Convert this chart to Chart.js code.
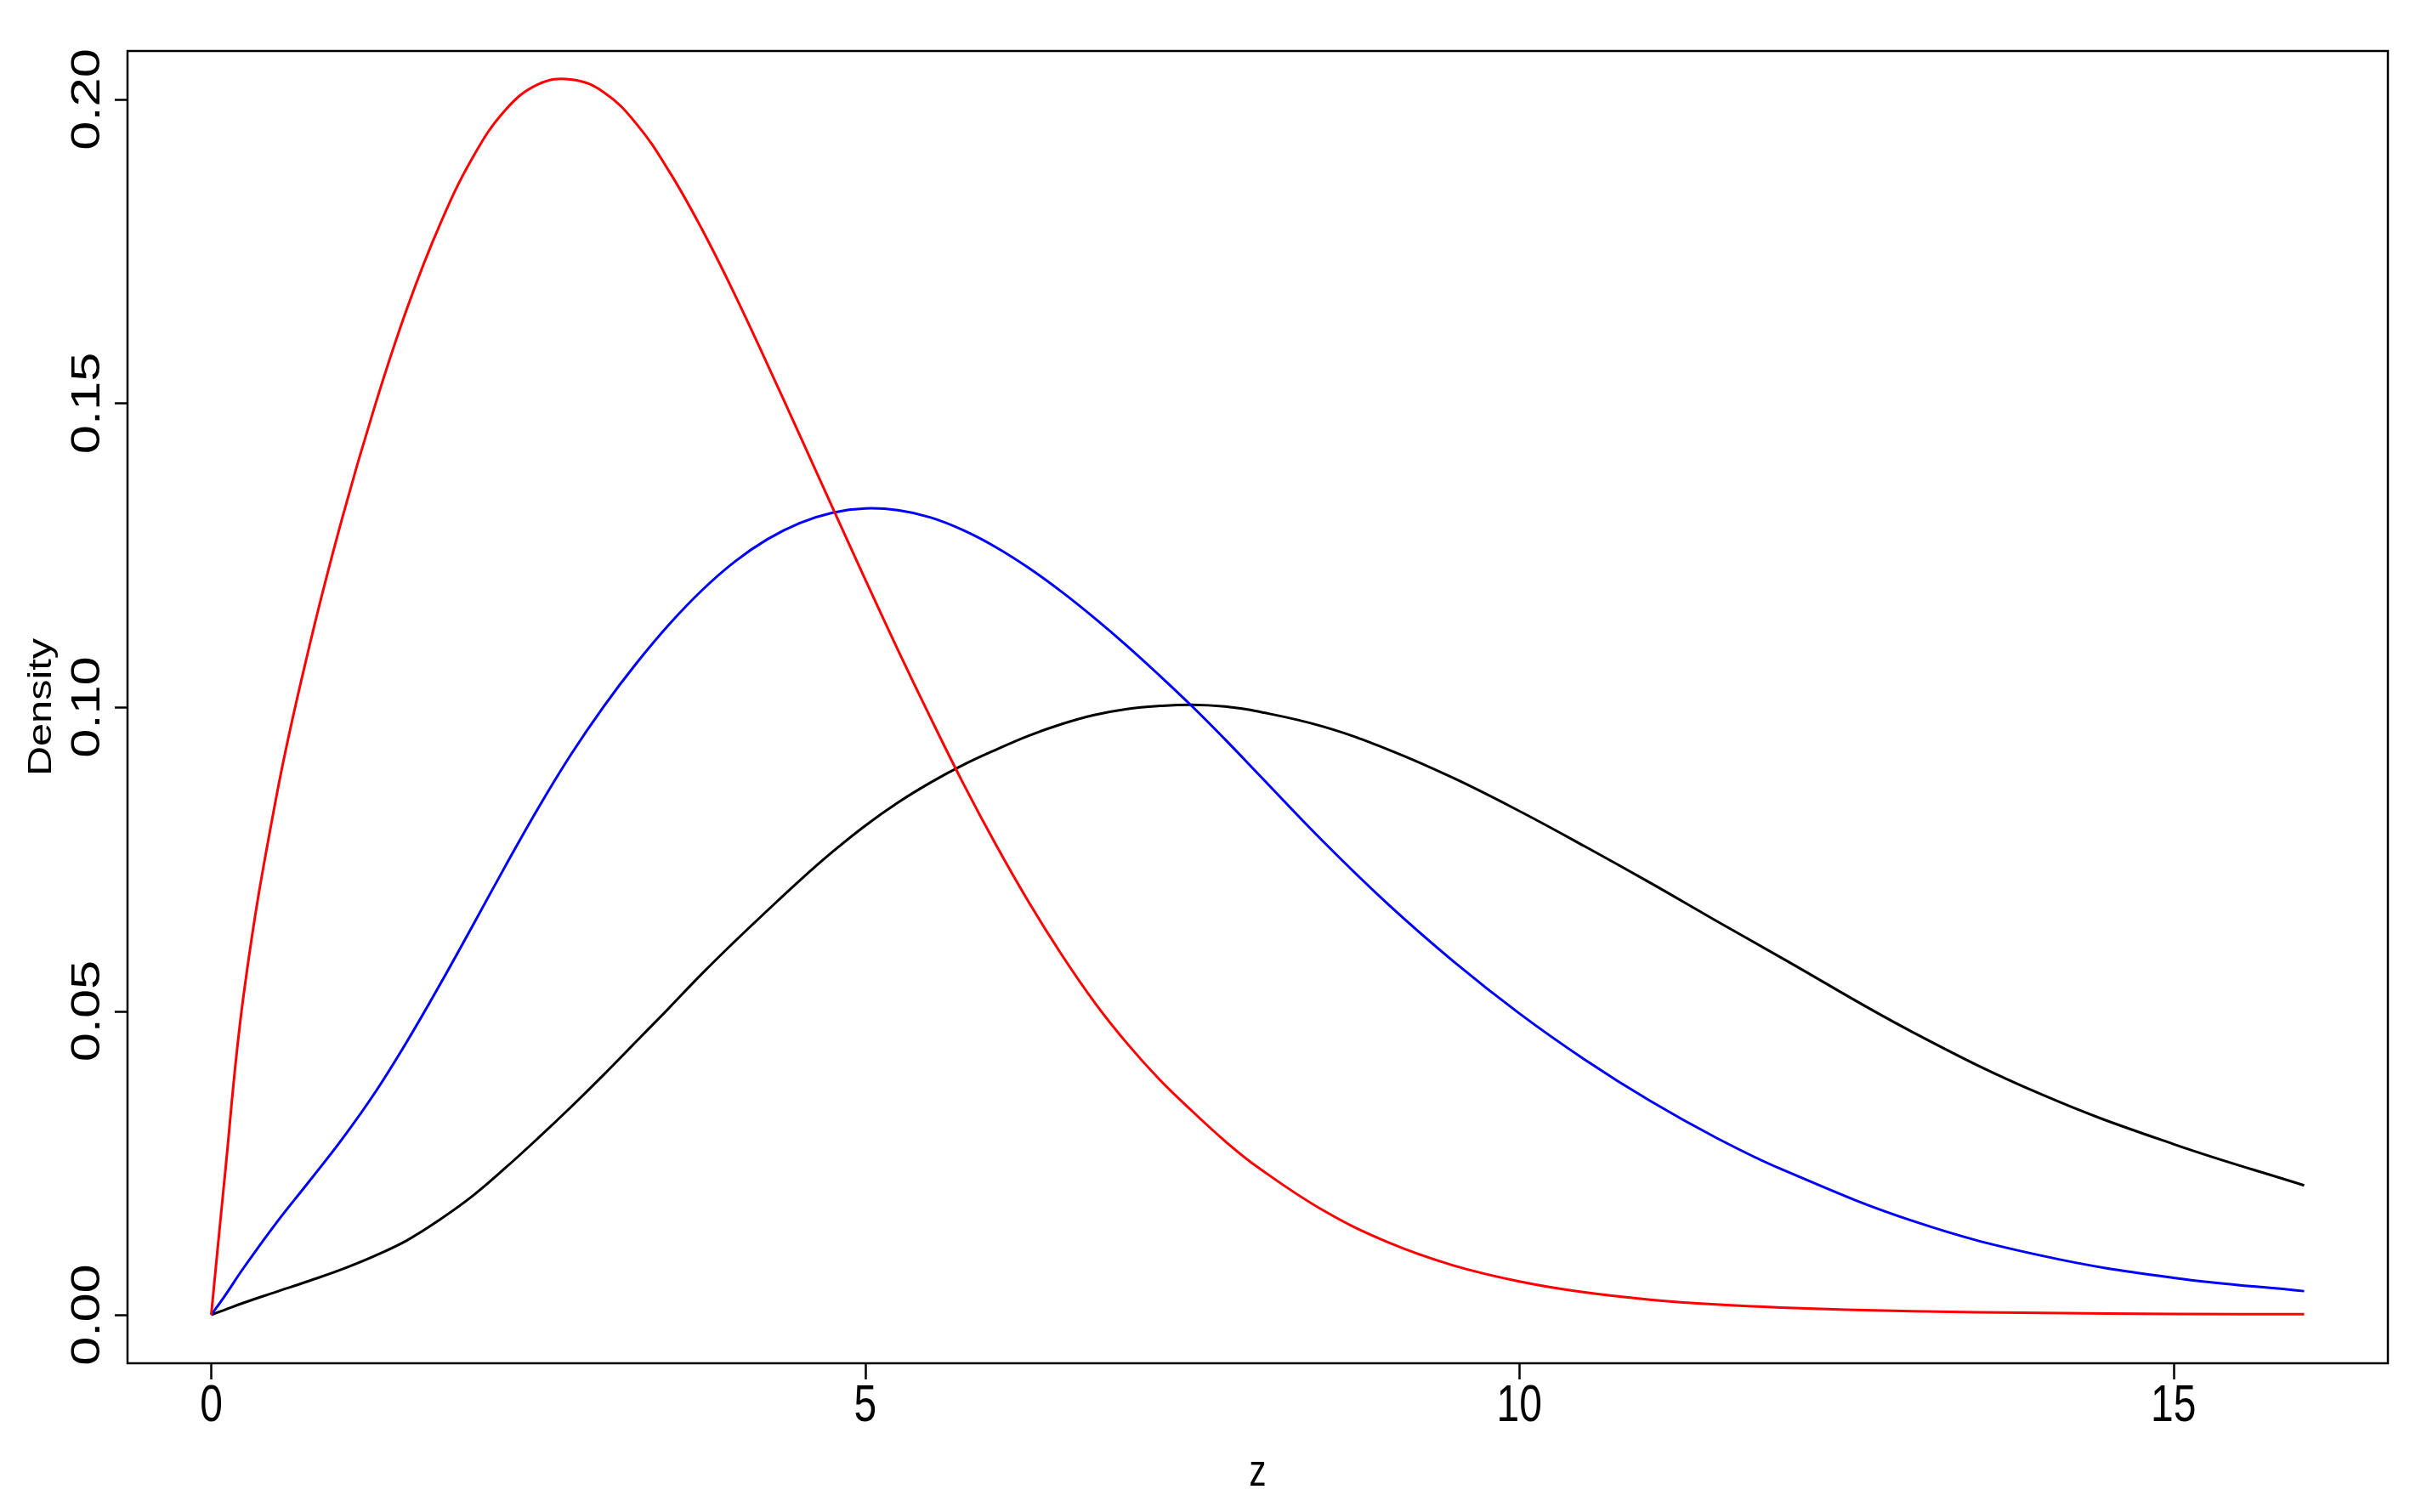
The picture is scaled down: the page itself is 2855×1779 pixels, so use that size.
<!DOCTYPE html>
<html>
<head>
<meta charset="utf-8">
<title>Density</title>
<script src="https://cdn.jsdelivr.net/npm/chart.js@4.4.0/dist/chart.umd.min.js"></script>
<style>
  html, body { margin: 0; padding: 0; background: #fff; }
  canvas { display: block; }
</style>
</head>
<body>
<canvas id="chartCanvas" width="2855" height="1779"></canvas>
<script>
// values
const zValues = [0, 0.1, 0.25, 0.5, 0.75, 1, 1.25, 1.5, 1.75, 2, 2.25, 2.5, 2.75, 3, 3.25, 3.5, 3.75, 4, 4.25, 4.5,
    4.75, 5, 5.25, 5.5, 5.75, 6, 6.25, 6.5, 6.75, 7, 7.25, 7.5, 7.75, 8, 8.5, 9, 9.5, 10, 10.5, 11, 11.5, 12, 13, 14, 15, 16];

const redDensity = [0, 0.022, 0.053, 0.0855, 0.11, 0.131, 0.1495, 0.1658, 0.1795, 0.1905, 0.1983, 0.2025, 0.2033, 0.2012,
    0.196, 0.1882, 0.1787, 0.168, 0.1565, 0.1447, 0.1328, 0.121, 0.1094, 0.0982, 0.0874, 0.0773, 0.0679, 0.0593, 0.0515,
    0.0447, 0.0387, 0.0335, 0.0286, 0.0243, 0.0172, 0.0119, 0.0081, 0.0055, 0.0037, 0.0025, 0.0017, 0.0012, 0.0006, 0.0003,
    0.00015, 0.0001];

const blueDensity = [0, 0.003, 0.0078, 0.0152, 0.022, 0.0289, 0.0365, 0.0451, 0.0544, 0.0641, 0.0739, 0.0834, 0.0922, 0.1001,
    0.1072, 0.1136, 0.1192, 0.1239, 0.1276, 0.1303, 0.132, 0.1327, 0.1324, 0.1312, 0.1291, 0.1263, 0.1229, 0.119, 0.1147,
    0.1101, 0.1052, 0.1001, 0.0947, 0.0891, 0.0779, 0.0675, 0.0581, 0.0496, 0.042, 0.0352, 0.0292, 0.024, 0.0155, 0.0097,
    0.0061, 0.0039];

const blackDensity = [0, 0.0008, 0.002, 0.0038, 0.0056, 0.0075, 0.0097, 0.0123, 0.0157, 0.0196, 0.0242, 0.0291, 0.0342, 0.0395,
    0.045, 0.0505, 0.0561, 0.0614, 0.0665, 0.0715, 0.0762, 0.0805, 0.0843, 0.0876, 0.0905, 0.093, 0.0953, 0.0972, 0.0987,
    0.0997, 0.1002, 0.1004, 0.1001, 0.0993, 0.0968, 0.093, 0.0883, 0.0829, 0.0771, 0.0711, 0.0649, 0.0588, 0.0466, 0.0362,
    0.0281, 0.0213];

const xTicks = [0, 5, 10, 15];
const yTicks = [0, 0.05, 0.1, 0.15, 0.2];
const yTickLabels = ['0.00', '0.05', '0.10', '0.15', '0.20'];
const xTitle = 'z';
const yTitle = 'Density';

const FONT = '"Liberation Sans", Arial, Helvetica, sans-serif';
const STRETCH = 1.28; // text in the reference is taller than it is wide

function toPoints(values) {
    return zValues.map((z, i) => ({ x: z, y: values[i] }));
}

function stretchedText(ctx, text, x, y, size, rotate) {
    ctx.save();
    ctx.translate(x, y);
    ctx.scale(1, STRETCH);
    if (rotate) ctx.rotate(-Math.PI / 2);
    ctx.font = size + 'px ' + FONT;
    ctx.fillStyle = '#000';
    ctx.textAlign = 'center';
    ctx.textBaseline = 'alphabetic';
    ctx.fillText(text, 0, 0);
    ctx.restore();
}

// R style frame, ticks and labels
const rAxes = {
    id: 'rAxes',
    afterDraw(chart) {
        const ctx = chart.ctx;
        const area = chart.chartArea;
        const xs = chart.scales.x;
        const ys = chart.scales.y;

        ctx.save();
        ctx.strokeStyle = '#000';
        ctx.lineWidth = 2.5;
        ctx.strokeRect(area.left, area.top, area.right - area.left, area.bottom - area.top);

        ctx.beginPath();
        xTicks.forEach(v => {
            const px = Math.round(xs.getPixelForValue(v)) + 0.5;
            ctx.moveTo(px, area.bottom);
            ctx.lineTo(px, area.bottom + 19);
        });
        yTicks.forEach(v => {
            const py = Math.round(ys.getPixelForValue(v)) + 0.5;
            ctx.moveTo(area.left, py);
            ctx.lineTo(area.left - 15, py);
        });
        ctx.stroke();
        ctx.restore();

        xTicks.forEach(v => {
            stretchedText(ctx, String(v), xs.getPixelForValue(v), area.bottom + 68, 48, false);
        });
        yTicks.forEach((v, i) => {
            stretchedText(ctx, yTickLabels[i], 117, ys.getPixelForValue(v), 48, true);
        });

        const midX = (area.left + area.right) / 2;
        const midY = (area.top + area.bottom) / 2;
        stretchedText(ctx, xTitle, midX, 1748, 40, false);
        stretchedText(ctx, yTitle, 60, midY, 38, true);
    }
};

const chartCanvas = document.getElementById('chartCanvas').getContext('2d');

new Chart(chartCanvas, {
    type: 'line',
    data: {
        datasets: [
            { label: 'red', data: toPoints(redDensity), borderColor: '#ff0000' },
            { label: 'blue', data: toPoints(blueDensity), borderColor: '#0000ff' },
            { label: 'black', data: toPoints(blackDensity), borderColor: '#000000' }
        ]
    },
    options: {
        responsive: false,
        animation: false,
        events: [],
        layout: { padding: { left: 150, top: 60, right: 46, bottom: 175 } },
        elements: {
            line: { borderWidth: 3, tension: 0.4, fill: false },
            point: { radius: 0 }
        },
        plugins: {
            legend: { display: false },
            tooltip: { enabled: false }
        },
        scales: {
            x: { type: 'linear', min: -0.64, max: 16.64, display: false },
            y: { type: 'linear', min: -0.00797, max: 0.20797, display: false }
        }
    },
    plugins: [rAxes]
});
</script>
</body>
</html>
